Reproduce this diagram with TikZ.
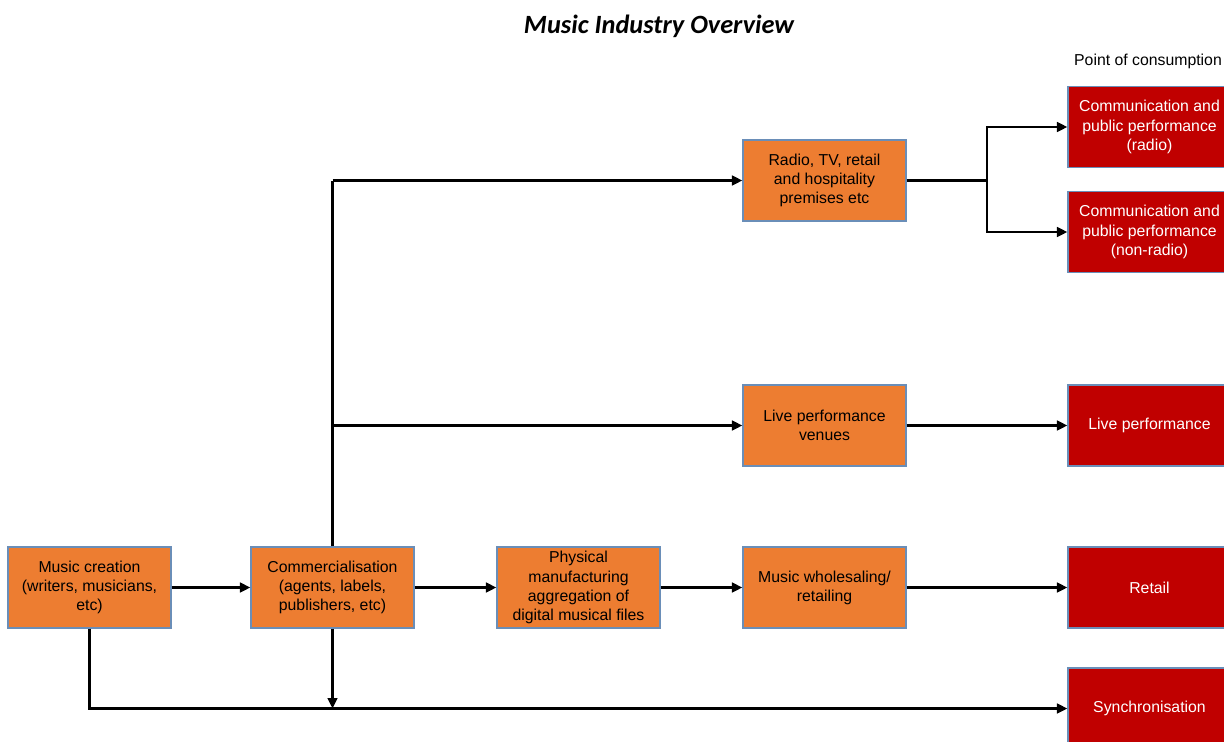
\documentclass[tikz,border=0pt]{standalone}
\usepackage{fontspec}
\setmainfont{Liberation Sans}
\newfontfamily\titlefont{Carlito}
\usepackage{tikz}
\usepackage{xcolor}
\definecolor{stage}{HTML}{ED7D31}
\definecolor{consume}{HTML}{C00000}
\definecolor{edge}{HTML}{6A8EB8}
\usetikzlibrary{arrows.meta}
\usetikzlibrary{positioning}
\tikzset{
  stagebox/.style={draw=edge, line width=0.6pt, fill=stage, minimum width=3.26cm, minimum height=1.62cm,
    align=center, font=\fontsize{9}{10.9}\selectfont, text=black, inner sep=1pt},
  consumebox/.style={stagebox, fill=consume, text=white},
  flow/.style={line width=1.5pt, -{Triangle[length=2.1mm,width=1.9mm]}},
  link/.style={line width=1.5pt}
}

\begin{document}
\begin{tikzpicture}
\useasboundingbox (0,0) rectangle (24.48,-14.84);

% Title
\node (title) at (13.18,-0.52) {\titlefont\bfseries\itshape\fontsize{15}{18}\selectfont Music Industry Overview};
\node (poc) at (22.96,-1.22) {\fontsize{9}{11}\selectfont Point of consumption};

% Bottom row
\node[stagebox] (creation) at (1.79,-11.75) {Music creation\\(writers, musicians,\\etc)};
\node[stagebox] (commerce) at (6.65,-11.75) {Commercialisation\\(agents, labels,\\publishers, etc)};
\node[stagebox] (physical) at (11.57,-11.75) {Physical\\manufacturing\\aggregation of\\digital musical files};
\node[stagebox] (wholesale) at (16.49,-11.75) {Music wholesaling/\\retailing};

% Middle column
\node[stagebox] (venues) at (16.49,-8.51) {Live performance\\venues};
\node[stagebox] (premises) at (16.49,-3.61) {Radio, TV, retail\\and hospitality\\premises etc};

% Point of consumption
\node[consumebox] (radio) at (22.99,-2.54) {Communication and\\public performance\\(radio)};
\node[consumebox] (nonradio) at (22.99,-4.64) {Communication and\\public performance\\(non-radio)};
\node[consumebox] (live) at (22.99,-8.51) {Live performance};
\node[consumebox] (retail) at (22.99,-11.75) {Retail};
\node[consumebox] (sync) at (22.99,-14.17) {Synchronisation};

% Main chain
\draw[flow] (creation) -- (commerce);
\draw[flow] (commerce) -- (physical);
\draw[flow] (physical) -- (wholesale);
\draw[flow] (wholesale) -- (retail);
\draw[flow] (venues) -- (live);

% Branches from commercialisation
\coordinate (up) at (commerce.north |- premises);
\coordinate (mid) at (commerce.north |- venues);
\draw[link] (commerce.north) -- (up);
\draw[flow] (up) -- (premises);
\draw[flow] (mid) -- (venues);

% Split to radio / non-radio
\coordinate (split) at (19.74,-3.61);
\draw[link] (premises) -- (split);
\draw[flow] (split) |- (radio);
\draw[flow] (split) |- (nonradio);

% Synchronisation
\coordinate (low) at (commerce.south |- sync);
\draw[flow] (creation.south) |- (sync);
\draw[flow] (commerce.south) -- (low);
\end{tikzpicture}
\end{document}
